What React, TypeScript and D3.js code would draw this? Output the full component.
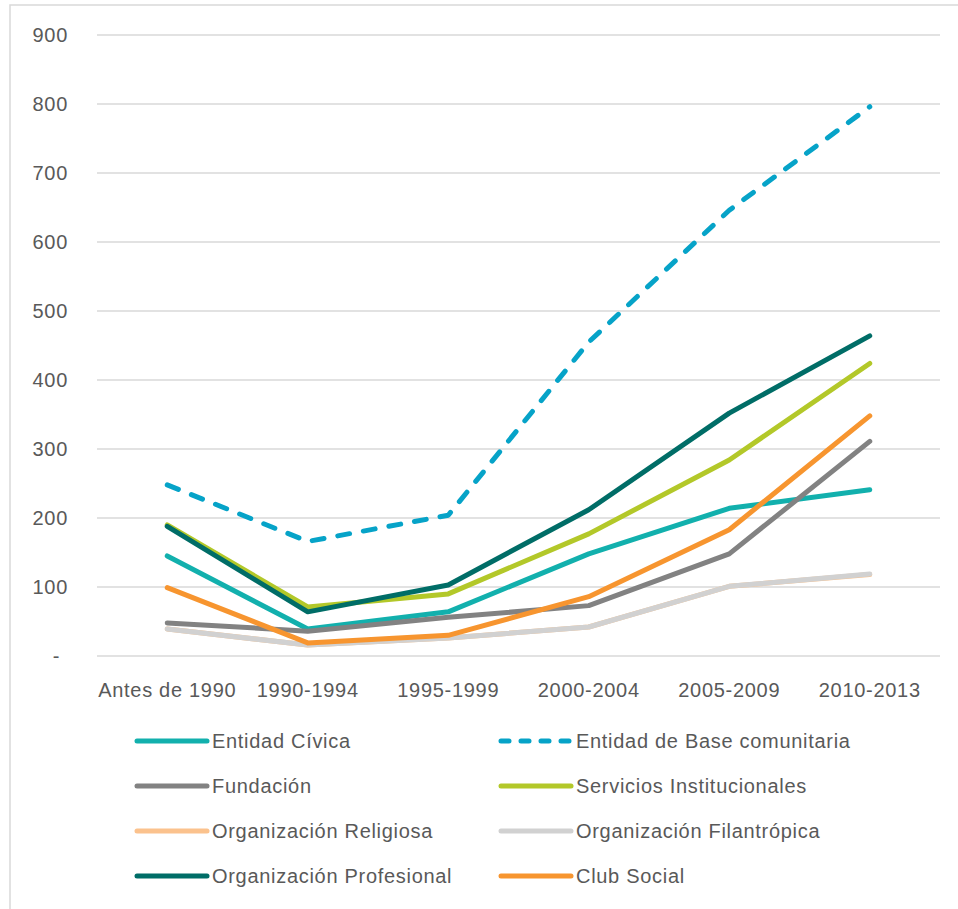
import { useEffect, useRef } from 'react';
import * as d3 from 'd3';

const categories = ['Antes de 1990', '1990-1994', '1995-1999', '2000-2004', '2005-2009', '2010-2013'];
const yTicks = [0, 100, 200, 300, 400, 500, 600, 700, 800, 900];

const entidadCivica = [145, 39, 64, 148, 214, 241];
const entidadBase = [248, 166, 204, 455, 646, 796];
const fundacion = [48, 36, 56, 73, 148, 311];
const servicios = [190, 71, 90, 177, 284, 424];
const religiosa = [39, 16, 26, 42, 101, 118];
const filantropica = [39, 16, 26, 42, 101, 119];
const profesional = [188, 64, 103, 212, 352, 464];
const clubSocial = [99, 19, 30, 86, 183, 348];

type Series = { name: string; values: number[]; color: string; dashed?: boolean };

const series: Series[] = [
  { name: 'Entidad Cívica', values: entidadCivica, color: '#12b0ad' },
  { name: 'Entidad de Base comunitaria', values: entidadBase, color: '#06a3c8', dashed: true },
  { name: 'Fundación', values: fundacion, color: '#828282' },
  { name: 'Servicios Institucionales', values: servicios, color: '#b3c829' },
  { name: 'Organización Religiosa', values: religiosa, color: '#fbc28d' },
  { name: 'Organización Filantrópica', values: filantropica, color: '#d1d1d1' },
  { name: 'Organización Profesional', values: profesional, color: '#006d67' },
  { name: 'Club Social', values: clubSocial, color: '#f7952f' },
];

const FONT = '"Liberation Sans", Arial, sans-serif';
const TEXT = '#595959';
const FS = 20;
const LS = 0.7;

export default function App() {
  const ref = useRef<SVGSVGElement | null>(null);

  useEffect(() => {
    if (!ref.current) return;
    const svg = d3.select(ref.current);
    svg.selectAll('*').remove();

    const left = 97;
    const right = 940;
    const top = 35;
    const bottom = 656;

    const x = d3.scaleBand<string>().domain(categories).range([left, right]);
    const y = d3.scaleLinear().domain([0, 900]).range([bottom, top]);
    const cx = (c: string) => (x(c) ?? 0) + x.bandwidth() / 2;

    // outer frame
    svg.append('rect')
      .attr('x', 10).attr('y', 5).attr('width', 970).attr('height', 930)
      .attr('fill', 'white').attr('stroke', '#d9d9d9').attr('stroke-width', 1.5);

    // gridlines
    svg.append('g').selectAll('line').data(yTicks).join('line')
      .attr('x1', left).attr('x2', right)
      .attr('y1', (d) => y(d)).attr('y2', (d) => y(d))
      .attr('stroke', '#d9d9d9').attr('stroke-width', 1.3);

    // y labels
    svg.append('g').selectAll('text').data(yTicks).join('text')
      .attr('x', (d) => (d === 0 ? 60 : 68))
      .attr('y', (d) => y(d))
      .attr('dy', '0.35em')
      .attr('text-anchor', 'end')
      .attr('font-family', FONT).attr('font-size', FS).attr('letter-spacing', LS).attr('fill', TEXT)
      .text((d) => (d === 0 ? '-' : String(d)));

    // x labels
    svg.append('g').selectAll('text').data(categories).join('text')
      .attr('x', (d) => cx(d))
      .attr('y', 697)
      .attr('text-anchor', 'middle')
      .attr('font-family', FONT).attr('font-size', FS).attr('letter-spacing', LS).attr('fill', TEXT)
      .text((d) => d);

    const line = d3.line<number>()
      .x((_, i) => cx(categories[i]))
      .y((d) => y(d));

    svg.append('g').selectAll('path').data(series).join('path')
      .attr('d', (s) => line(s.values) as string)
      .attr('fill', 'none')
      .attr('stroke', (s) => s.color)
      .attr('stroke-width', 5)
      .attr('stroke-linecap', 'round')
      .attr('stroke-linejoin', 'round')
      .attr('stroke-dasharray', (s) => (s.dashed ? '12,14' : null));

    // legend
    const legend = svg.append('g');
    series.forEach((s, i) => {
      const col = i % 2;
      const row = Math.floor(i / 2);
      const lx = col === 0 ? 137 : 501;
      const ly = 741 + row * 45;
      const g = legend.append('g');
      g.append('line')
        .attr('x1', lx).attr('x2', lx + 70)
        .attr('y1', ly).attr('y2', ly)
        .attr('stroke', s.color).attr('stroke-width', 5)
        .attr('stroke-linecap', 'round')
        .attr('stroke-dasharray', s.dashed ? '8,12' : null);
      g.append('text')
        .attr('x', lx + 75).attr('y', ly).attr('dy', '0.35em')
        .attr('font-family', FONT).attr('font-size', FS).attr('letter-spacing', LS).attr('fill', TEXT)
        .text(s.name);
    });
  }, []);

  return (
    <svg
      ref={ref}
      width={958}
      height={909}
      viewBox="0 0 958 909"
      style={{ position: 'absolute', left: 0, top: 0, background: 'white' }}
    />
  );
}
